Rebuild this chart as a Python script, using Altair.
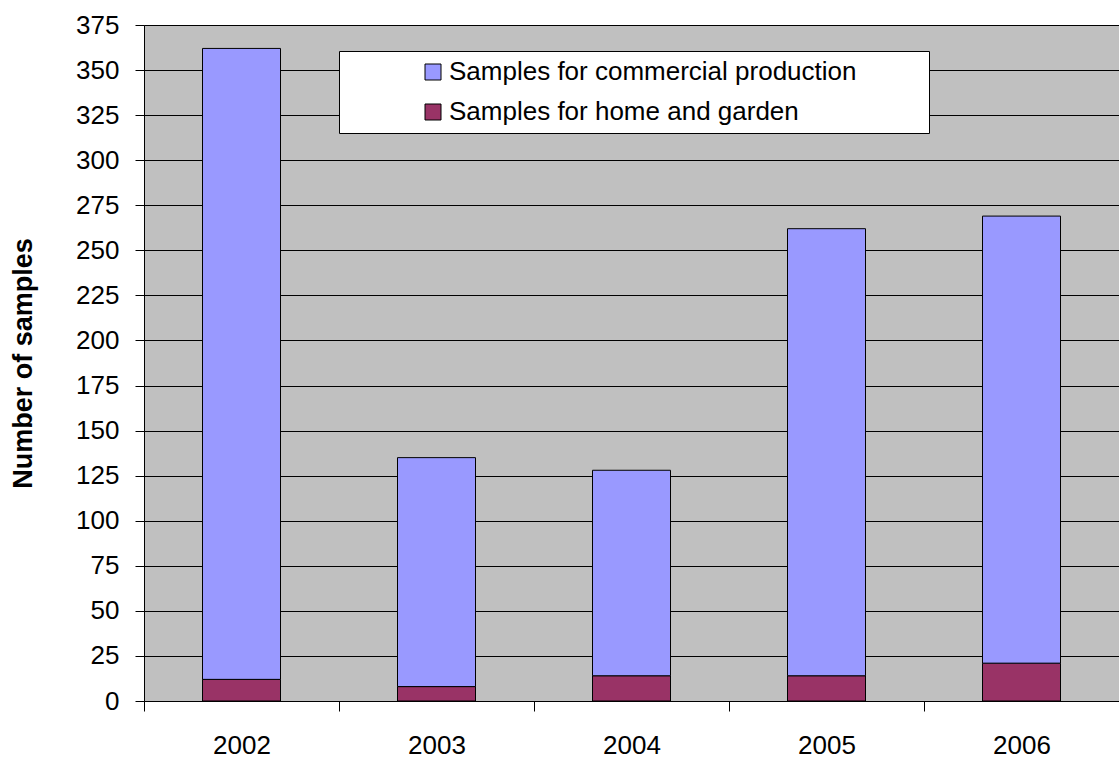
import altair as alt
import pandas as pd

years = ["2002", "2003", "2004", "2005", "2006"]
commercial = [350, 127, 114, 248, 248]
home = [12, 8, 14, 14, 21]
series = ["Samples for commercial production", "Samples for home and garden"]
colors = ["#9999FF", "#993366"]
y_ticks = [0, 25, 50, 75, 100, 125, 150, 175, 200, 225, 250, 275, 300, 325, 350, 375]

rows = []
for yr, c, h in zip(years, commercial, home):
    rows.append({"year": yr, "series": series[1], "value": h, "order": 0})
    rows.append({"year": yr, "series": series[0], "value": c, "order": 1})
df = pd.DataFrame(rows)

FONT = "Liberation Sans"

chart = alt.Chart(df).mark_bar(size=78, stroke="black", strokeWidth=1).encode(
    x=alt.X(
        "year:N",
        sort=years,
        scale=alt.Scale(paddingInner=0, paddingOuter=0),
        axis=alt.Axis(
            title=None, labelAngle=0, tickBand="extent", tickSize=10,
            labelPadding=21, labelFontSize=26, labelFont=FONT, labelColor="black",
            domainColor="black", tickColor="black", grid=False,
        ),
    ),
    y=alt.Y(
        "value:Q",
        stack="zero",
        scale=alt.Scale(domain=[0, 375], nice=False),
        axis=alt.Axis(
            values=y_ticks, title="Number of samples", tickSize=9, labelPadding=16,
            labelFontSize=26, labelFont=FONT, labelColor="black",
            domainColor="black", tickColor="black", grid=True,
            gridColor="black", gridWidth=1,
            titleFont=FONT, titleFontSize=27, titleFontWeight="bold",
            titleColor="black", titleX=-121, titleY=338, titleAngle=270,
            titleBaseline="middle", titleAlign="center",
        ),
    ),
    color=alt.Color(
        "series:N",
        scale=alt.Scale(domain=series, range=colors),
        legend=alt.Legend(
            title=".", titleOrient="right", titleFontSize=8, titleColor="white",
            titlePadding=62,
            orient="none", legendX=195, legendY=26,
            fillColor="white", strokeColor="black", padding=8,
            symbolType="square", symbolSize=256, symbolStrokeColor="black",
            symbolStrokeWidth=1, symbolOffset=73, labelOffset=3,
            labelFontSize=26, labelFont=FONT, labelColor="black",
            rowPadding=14, labelLimit=800,
        ),
    ),
    order=alt.Order("order:Q"),
).properties(
    width=975,
    height=676,
    autosize=alt.AutoSizeParams(type="none"),
    padding={"left": 144, "top": 25, "right": 0, "bottom": 58},
    background="white",
).configure_view(
    fill="#C0C0C0", stroke="#808080", strokeWidth=1
)

chart.save("out.html", embed_options={"renderer": "svg", "actions": False})
